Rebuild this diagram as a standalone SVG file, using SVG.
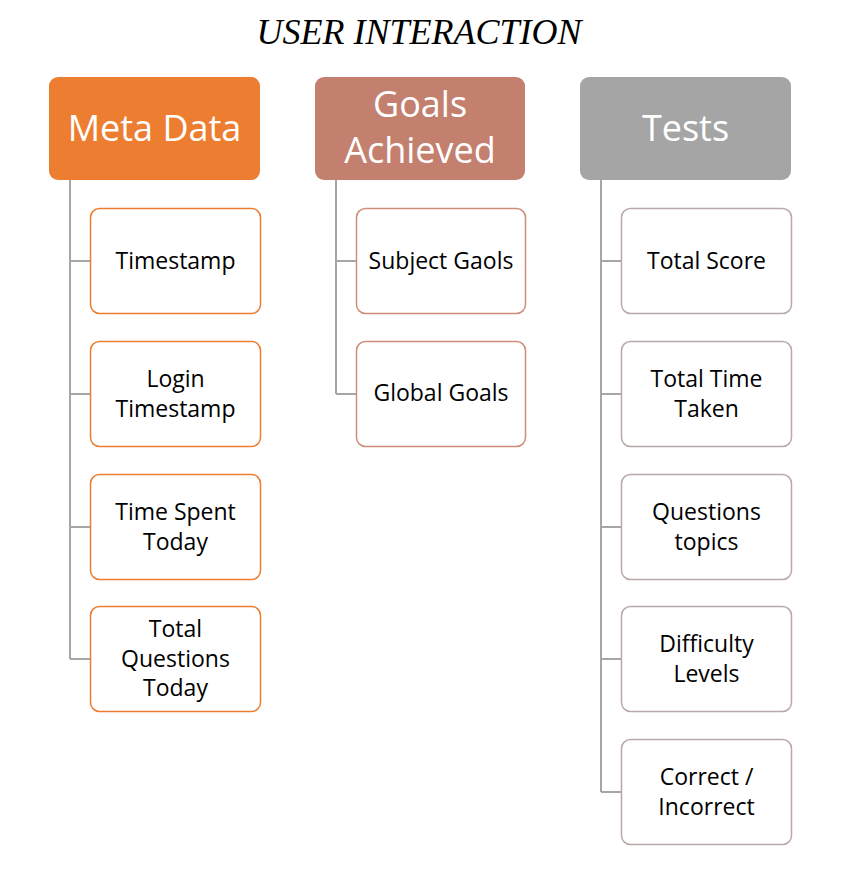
<svg xmlns="http://www.w3.org/2000/svg" width="860" height="874" viewBox="0 0 860 874">
<style>
.title{font-family:"Liberation Serif",serif;font-style:italic;font-size:36px;fill:#000;text-anchor:middle}
.hdr{font-family:"Open Sans","Noto Sans",sans-serif;font-size:36px;fill:#fff;text-anchor:middle}
.lbl{font-family:"Open Sans","Noto Sans",sans-serif;font-size:23px;fill:#000;text-anchor:middle}
.c{fill:#fff;stroke-width:1.5}
.m{stroke:#ED7D31}
.g{stroke:#CF8C7B}
.t{stroke:#BBA8A8}
.conn{fill:none;stroke:#A6A6A6;stroke-width:2}
</style>
<rect width="860" height="874" fill="#fff"/>
<text class="title" x="419" y="44">USER INTERACTION</text>
<g id="connectors">
<path class="conn" d="M70 180V659M70 261H90M70 394H90M70 527H90M70 659H90"/>
<path class="conn" d="M336 180V394M336 261H356M336 394H356"/>
<path class="conn" d="M601 180V792M601 261H621M601 394H621M601 527H621M601 659H621M601 792H621"/>
</g>
<g id="meta"><rect x="49" y="77" width="211" height="103" rx="9" fill="#ED7D31"/><text class="hdr" x="154.5" y="141">Meta Data</text></g>
<g id="goals"><rect x="315" y="77" width="210" height="103" rx="9" fill="#C4806F"/><text class="hdr" x="420" y="117">Goals</text><text class="hdr" x="420" y="163">Achieved</text></g>
<g id="tests"><rect x="580" y="77" width="211" height="103" rx="9" fill="#A5A5A5"/><text class="hdr" x="685.5" y="141">Tests</text></g>

<g id="timestamp"><rect class="c m" x="90.5" y="208.5" width="170" height="105" rx="9"/><text class="lbl" x="175.5" y="269">Timestamp</text></g>
<g id="login"><rect class="c m" x="90.5" y="341.5" width="170" height="105" rx="9"/><text class="lbl" x="175.5" y="387">Login</text><text class="lbl" x="175.5" y="417">Timestamp</text></g>
<g id="timespent"><rect class="c m" x="90.5" y="474.5" width="170" height="105" rx="9"/><text class="lbl" x="175.5" y="520">Time Spent</text><text class="lbl" x="175.5" y="550">Today</text></g>
<g id="totalq"><rect class="c m" x="90.5" y="606.5" width="170" height="105" rx="9"/><text class="lbl" x="175.5" y="637">Total</text><text class="lbl" x="175.5" y="667">Questions</text><text class="lbl" x="175.5" y="696">Today</text></g>

<g id="subject"><rect class="c g" x="356.5" y="208.5" width="169" height="105" rx="9"/><text class="lbl" x="441" y="269">Subject Gaols</text></g>
<g id="global"><rect class="c g" x="356.5" y="341.5" width="169" height="105" rx="9"/><text class="lbl" x="441" y="401">Global Goals</text></g>

<g id="totalscore"><rect class="c t" x="621.5" y="208.5" width="170" height="105" rx="9"/><text class="lbl" x="706.5" y="269">Total Score</text></g>
<g id="totaltime"><rect class="c t" x="621.5" y="341.5" width="170" height="105" rx="9"/><text class="lbl" x="706.5" y="387">Total Time</text><text class="lbl" x="706.5" y="417">Taken</text></g>
<g id="qtopics"><rect class="c t" x="621.5" y="474.5" width="170" height="105" rx="9"/><text class="lbl" x="706.5" y="520">Questions</text><text class="lbl" x="706.5" y="550">topics</text></g>
<g id="difficulty"><rect class="c t" x="621.5" y="606.5" width="170" height="105" rx="9"/><text class="lbl" x="706.5" y="652">Difficulty</text><text class="lbl" x="706.5" y="682">Levels</text></g>
<g id="correct"><rect class="c t" x="621.5" y="739.5" width="170" height="105" rx="9"/><text class="lbl" x="706.5" y="785">Correct /</text><text class="lbl" x="706.5" y="815">Incorrect</text></g>
</svg>
